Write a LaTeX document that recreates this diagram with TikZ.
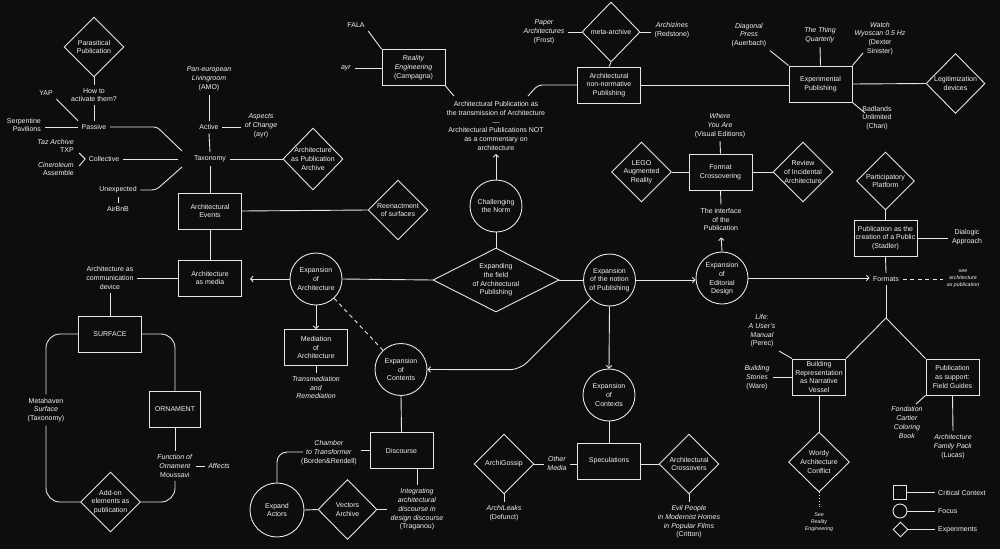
\documentclass[tikz,border=0pt]{standalone}
\usepackage{fontspec}
\setmainfont{Liberation Sans}
\usetikzlibrary{shapes.geometric,arrows.meta,calc}
\definecolor{bg}{HTML}{0D0D0D}
\definecolor{lc}{HTML}{E6E6E6}
\definecolor{fg}{HTML}{F2F2F2}
\begin{document}
\begin{tikzpicture}[x=1pt,y=-1pt,
 every node/.style={font=\fontsize{7}{8.7}\selectfont, text=fg, inner sep=3.5pt, align=center},
 ln/.style={draw=lc, line width=0.9pt},
 arr/.style={ln, -{Straight Barb[length=2.5pt,width=5.5pt]}},
 dsh/.style={ln, dash pattern=on 4pt off 3.5pt},
 dtt/.style={ln, dash pattern=on 1pt off 1.8pt},
 box/.style={ln, rectangle, minimum width=63pt, minimum height=36pt, inner sep=0pt},
 dia/.style={ln, diamond, minimum width=60pt, minimum height=60pt, inner sep=0pt},
 circ/.style={ln, circle, minimum size=52pt, inner sep=0pt},
 tiny/.style={font=\fontsize{5.3}{7.3}\selectfont\itshape},
]
\fill[bg] (0,0) rectangle (1000,549);
\useasboundingbox (0,0) rectangle (1000,549);

% ---------- top left ----------
\node[dia] (para) at (94,47) {};
\node (parat) at (para) {Parasitical\\Publication};
\node (how) at (94,95) {How to\\activate them?};
\node (passive) at (94,127) {Passive};
\node (yap) at (46,93) {YAP};
\node[anchor=east, align=right] (serp) at (44.5,125) {Serpentine\\Pavilions};
\node[anchor=east, align=right] (taz) at (77.5,146) {\textit{Taz Archive}\\TXP};
\node[anchor=east, align=right] (cin) at (77.5,169) {\textit{Cineroleum}\\Assemble};
\node (coll) at (104,159) {Collective};
\node (tax) at (210,159) {Taxonomy};
\node (active) at (209,127) {Active};
\node (pan) at (209,79) {\textit{Pan-european}\\\textit{Livingroom}\\(AMO)};
\node (aspects) at (261,126) {\textit{Aspects}\\\textit{of Change}\\(ayr)};
\node[dia, minimum height=62pt] (apa) at (313,159) {};
\node (apat) at (apa) {Architecture\\as Publication\\Archive};
\node (unexp) at (118,190) {Unexpected};
\node (airbnb) at (118,209) {AirBnB};
\node[box] (events) at (210,211) {Architectural\\Events};
\node[dia] (reen) at (398,210) {};
\node (reent) at (reen) {Reenactment\\of surfaces};
\node[box] (media) at (210,278) {Architecture\\as media};
\node (comm) at (110,278) {Architecture as\\communication\\device};
\node[box] (surface) at (110,334) {SURFACE};
\node[box, minimum width=51pt] (orn) at (175,409) {ORNAMENT};
\node (meta) at (46,410) {Metahaven\\\textit{Surface}\\(Taxonomy)};
\node (func) at (175,466) {\textit{Function of}\\\textit{Ornament}\\Moussavi};
\node (affects) at (219,466) {\textit{Affects}};
\node[dia] (addon) at (110.5,502) {};
\node (addont) at (addon) {Add-on\\elements as\\publication};

\coordinate (taxA) at (182,151);
\coordinate (taxB) at (178,159);
\coordinate (taxC) at (182,167);

\draw[ln] (para.south) -- (how.north);
\draw[ln] (how.south) -- (passive.north);
\draw[ln] (yap.south east) -- (passive.north west);
\draw[ln] (passive.west) -- (passive.west -| serp.east);
\draw[ln, rounded corners=3pt] (passive.east) -- (157,127) -- (taxA);
\draw[ln] ($(coll.west)+(-6,-6)$) -- (coll.west) -- ($(coll.west)+(-6,7)$);
\draw[ln] (coll.east) -- (taxB);
\draw[ln, rounded corners=4pt] (unexp.east) -- (156,190) -- (taxC);
\draw[ln] (unexp.south) -- (airbnb.north);
\draw[ln] (tax.north) -- (active.south);
\draw[ln] (active.north) -- (pan.south);
\draw[ln] (active.east) -- (active.east -| aspects.west);
\draw[ln] (tax.east) -- (apa.west);
\draw[ln] (tax.south) -- (events.north);
\draw[ln] (events.east) -- (reen.west);
\draw[ln] (events.south) -- (media.north);
\draw[ln] (media.west) -- (media.west -| comm.east);
\draw[ln] (comm.south) -- (surface.north);
\draw[ln, rounded corners=14pt] (surface.west) -- (46,334) -- (meta.north);
\draw[ln, rounded corners=14pt] (meta.south) -- (46,502) -- (addon.west);
\draw[ln, rounded corners=14pt] (surface.east) -- (175,334) -- (orn.north);
\draw[ln] (orn.south) -- (func.north);
\draw[ln, rounded corners=14pt] (func.south) -- (175,502) -- (addon.east);
\draw[ln] (func.east) -- (affects.west);

% ---------- centre ----------
\node[circ] (exparch) at (316,279) {};
\node (exparcht) at (exparch) {Expansion\\of\\Architecture};
\node[ln, diamond, minimum width=126pt, minimum height=64pt, inner sep=0pt] (expfield) at (496,280) {};
\node (expfieldt) at (expfield) {Expanding\\the field\\of Architectural\\Publishing};
\node[circ] (chal) at (496,206) {};
\node (chalt) at (chal) {Challenging\\the Norm};
\node (transm) at (496,126) {Architectural Publication as\\the transmission of Architecture\\\textemdash\\Architectural Publications NOT\\as a commentary on\\architecture};
\node[box] (reality) at (413.5,67.5) {\textit{Reality}\\\textit{Engineering}\\(Campagna)};
\node (fala) at (356,25) {FALA};
\node (ayr) at (346,68) {\textit{ayr}};
\node[box] (nonnorm) at (609,85) {Architectural\\non-normative\\Publishing};
\node[dia, minimum width=58pt] (metaa) at (611,32) {};
\node (metaat) at (metaa) {meta-archive};
\node (paper) at (544,32) {\textit{Paper}\\\textit{Architectures}\\(Frost)};
\node (archiz) at (672,30.5) {\textit{Archizines}\\(Redstone)};

\coordinate (transNW) at (454,96);
\coordinate (transNE) at (528,96);

\draw[arr, shorten >=8pt] (exparch.west) -- (media.east |- exparch.west);
\draw[ln] (exparch.east) -- (expfield.west);
\draw[ln] (chal.south) -- (expfield.north);
\draw[arr] (chal.north) -- (transm.south);
\draw[ln] (reality.south east) -- (transNW);
\draw[ln, rounded corners=4pt] (transNE) -- (538,85) -- (nonnorm.west);
\draw[ln] (fala.south east) -- (reality.north west);
\draw[ln] (ayr.east) -- (ayr.east -| reality.west);
\draw[ln] (metaa.south) -- (nonnorm.north);
\draw[ln] (paper.east) -- (metaa.west);
\draw[ln] (metaa.east) -- (metaa.east -| archiz.west);

% ---------- top right ----------
\node[box] (exppub) at (820.5,84) {Experimental\\Publishing};
\node (diag) at (749,35) {\textit{Diagonal}\\\textit{Press}\\(Auerbach)};
\node (thing) at (820,35.5) {\textit{The Thing}\\\textit{Quarterly}};
\node (watch) at (880,38.5) {\textit{Watch}\\\textit{Wyoscan 0.5 Hz}\\(Dexter\\Sinister)};
\node[dia, minimum width=59pt] (legit) at (955.5,83.5) {};
\node (legitt) at (legit) {Legitimization\\devices};
\node (badl) at (877,118) {Badlands\\Unlimited\\(Chan)};
\coordinate (watchE) at (863,53);
\coordinate (badlE) at (865,113);

\draw[ln] (nonnorm.east) -- (nonnorm.east -| exppub.west);
\draw[ln] (diag.south east) -- (exppub.north west);
\draw[ln] (thing.south) -- (exppub.north);
\draw[ln] (exppub.north east) -- (watchE);
\draw[ln] (exppub.east) -- (legit.west);
\draw[ln] (exppub.south east) -- (badlE);

% ---------- editorial ----------
\node (where) at (720,125.5) {\textit{Where}\\\textit{You Are}\\(Visual Editions)};
\node[box] (format) at (720.5,172) {Format\\Crossovering};
\node[dia] (lego) at (641.5,172) {};
\node (legot) at (lego) {LEGO\\Augmented\\Reality};
\node[dia] (review) at (803,172) {};
\node (reviewt) at (review) {Review\\of Incidental\\Architecture};
\node (iface) at (721,219.5) {The interface\\of the\\Publication};
\node[circ] (editorial) at (722,278) {};
\node (editorialt) at (722,279) {Expansion\\of\\Editorial\\Design};
\node[circ] (notion) at (609.5,280) {};
\node (notiont) at (notion) {Expansion\\of the notion\\of Publishing};

\draw[ln] (where.south) -- (format.north);
\draw[ln] (lego.east) -- (format.west);
\draw[ln] (format.east) -- (review.west);
\draw[ln] (format.south) -- (iface.north);
\draw[arr, shorten >=3pt] (editorial.north) -- (iface.south);
\draw[ln] (expfield.east) -- (notion.west);
\draw[arr] (notion.east) -- (notion.east -| editorial.west);

% ---------- formats ----------
\node (formats) at (886,279) {Formats};
\node[dia, minimum width=58pt, minimum height=58pt] (partic) at (885.5,181) {};
\node (partict) at (partic) {Participatory\\Platform};
\node[box] (pubpub) at (885.5,238) {Publication as the\\creation of a Public\\(Stadler)};
\node (dialog) at (967,237.5) {Dialogic\\Approach};
\node[tiny] (seearch) at (963,278.5) {see\\architecture\\as publication};
\coordinate (fork) at (886,318);
\node[box, minimum width=53pt] (building) at (819,377) {Building\\Representation\\as Narrative\\Vessel};
\node[box, minimum width=53pt] (fieldg) at (952.5,377) {Publication\\as support:\\Field Guides};
\node (life) at (762,331) {\textit{Life:}\\\textit{A User's}\\\textit{Manual}\\(Perec)};
\node (bstories) at (757,377.5) {\textit{Building}\\\textit{Stories}\\(Ware)};
\node[dia, minimum width=61pt] (wordy) at (819,462) {};
\node (wordyt) at (wordy) {Wordy\\Architecture\\Conflict};
\node[tiny] (seereal) at (819,522) {See\\Reality\\Engineering};
\node (fondation) at (907,422.5) {\textit{Fondation}\\\textit{Cartier}\\\textit{Coloring}\\\textit{Book}};
\node (afp) at (953,446.5) {\textit{Architecture}\\\textit{Family Pack}\\(Lucas)};
\coordinate (fondE) at (916,404);

\draw[arr] (editorial.east) -- (editorial.east -| formats.west);
\draw[ln] (partic.south) -- (pubpub.north);
\draw[ln] (pubpub.east) -- (pubpub.east -| dialog.west);
\draw[ln] (pubpub.south) -- (formats.north);
\draw[dsh] (formats.east) -- (formats.east -| seearch.west);
\draw[ln] (formats.south) -- (fork);
\draw[ln] (fork) -- (building.north east);
\draw[ln] (fork) -- (fieldg.north west);
\draw[ln] (life.south east) -- (building.north west);
\draw[ln] (building.west -| bstories.east) -- (building.west);
\draw[ln] (building.south) -- (wordy.north);
\draw[dtt] (wordy.south) -- (seereal.north);
\draw[ln] (fieldg.south west) -- (fondE);
\draw[ln] (fieldg.south) -- (afp.north);

% ---------- lower centre ----------
\node[circ] (contents) at (401,369.5) {};
\node (contentst) at (contents) {Expansion\\of\\Contents};
\node[box] (mediation) at (316,347.5) {Mediation\\of\\Architecture};
\node (transmed) at (316,387.5) {\textit{Transmediation}\\\textit{and}\\\textit{Remediation}};
\node[box] (discourse) at (401.5,450.5) {Discourse};
\node (chamber) at (329,452.5) {\textit{Chamber}\\\textit{to Transformer}\\(Borden\&Rendell)};
\node[circ, minimum size=54pt] (actors) at (277,510) {};
\node (actorst) at (actors) {Expand\\Actors};
\node[dia, minimum width=59pt] (vectors) at (347.5,509.5) {};
\node (vectorst) at (vectors) {Vectors\\Archive};
\node (integr) at (417,509.5) {\textit{Integrating}\\\textit{architectural}\\\textit{discourse in}\\\textit{design discourse}\\(Traganou)};
\coordinate (chamW) at (303,452);

\draw[dsh] (exparch) -- (contents);
\draw[arr] (exparch.south) -- (mediation.north);
\draw[ln] (mediation.south) -- (transmed.north);
\draw[arr, rounded corners=10pt] (notion.south west) -- ++(-71,71) -- (contents.east);
\draw[ln] (contents.south) -- (discourse.north);
\draw[ln] (discourse.west) -- (discourse.west -| chamber.east);
\draw[ln, rounded corners=10pt] (chamW) -- (277,452) -- (actors.north);
\draw[ln] (actors.east) -- (vectors.west);
\draw[ln] (vectors.east) -- (vectors.east -| integr.west);
\draw[ln] (discourse.south -| integr.north) -- (integr.north);

% ---------- contexts ----------
\node[circ] (contexts) at (609,395) {};
\node (contextst) at (contexts) {Expansion\\of\\Contexts};
\node[box] (specul) at (609,461) {Speculations};
\node[dia] (crossov) at (689,464) {};
\node (crossovt) at (crossov) {Architectural\\Crossovers};
\node (evil) at (689,522) {\textit{Evil People}\\\textit{in Modernist Homes}\\\textit{in Popular Films}\\(Critton)};
\node (other) at (557,463.5) {\textit{Other}\\\textit{Media}};
\node[dia] (archig) at (504,464) {};
\node (archigt) at (archig) {ArchiGossip};
\node (leaks) at (504,513.5) {\textit{ArchiLeaks}\\(Defunct)};

\draw[arr] (notion.south) -- (contexts.north);
\draw[ln] (contexts.south) -- (specul.north);
\draw[ln] (crossov.west -| specul.east) -- (crossov.west);
\draw[ln] (crossov.south) -- (evil.north);
\draw[ln] (crossov.west -| specul.west) -- (crossov.west -| other.east);
\draw[ln] (other.west |- archig.east) -- (archig.east);
\draw[ln] (archig.south) -- (leaks.north);

% ---------- legend ----------
\node[ln, rectangle, minimum size=13.5pt, inner sep=0pt] (lsq) at (900,492.5) {};
\node[ln, circle, minimum size=14pt, inner sep=0pt] (lci) at (900,511) {};
\node[ln, diamond, minimum size=15pt, inner sep=0pt] (ldi) at (900.5,529.5) {};
\node[anchor=west] (lt1) at (934.5,493) {Critical Context};
\node[anchor=west] (lt2) at (934.5,511) {Focus};
\node[anchor=west] (lt3) at (934.5,529.5) {Experiments};
\draw[ln] (lsq.east) -- (lsq.east -| lt1.west);
\draw[ln] (lci.east) -- (lci.east -| lt2.west);
\draw[ln] (ldi.east) -- (ldi.east -| lt3.west);
\end{tikzpicture}
\end{document}
